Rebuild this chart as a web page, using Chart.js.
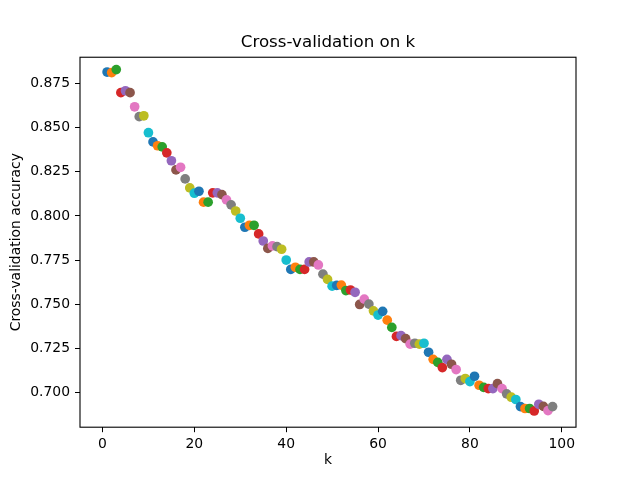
<!DOCTYPE html>
<html>
<head>
<meta charset="utf-8">
<script src="https://cdn.jsdelivr.net/npm/chart.js@4.4.0/dist/chart.umd.min.js"></script>
<style>
  body { margin: 0; background: #fff; }
  canvas { display: block; }
</style>
</head>
<body>
<canvas id="knnChart" width="640" height="480"></canvas>
<script>
// k values tried in the cross-validation
const kValues = [];
for (let k = 1; k <= 98; k++) kValues.push(k);

// mean CV accuracy, one per k
const accuracy = [
  0.8816, 0.8813, 0.8830, 0.8699, 0.8710, 0.8699, 0.8619, 0.8563, 0.8568, 0.8472,
  0.8420, 0.8398, 0.8392, 0.8358, 0.8313, 0.8261, 0.8276, 0.8210, 0.8159, 0.8129,
  0.8140, 0.8078, 0.8078, 0.8131, 0.8131, 0.8121, 0.8091, 0.8063, 0.8028, 0.7987,
  0.7936, 0.7947, 0.7947, 0.7898, 0.7858, 0.7816, 0.7830, 0.7826, 0.7811, 0.7750,
  0.7697, 0.7709, 0.7697, 0.7697, 0.7739, 0.7739, 0.7722, 0.7670, 0.7640, 0.7602,
  0.7606, 0.7608, 0.7577, 0.7580, 0.7567, 0.7498, 0.7528, 0.7500, 0.7462, 0.7438,
  0.7459, 0.7409, 0.7368, 0.7317, 0.7321, 0.7304, 0.7273, 0.7278, 0.7273, 0.7278,
  0.7227, 0.7187, 0.7170, 0.7140, 0.7187, 0.7159, 0.7129, 0.7068, 0.7078, 0.7061,
  0.7091, 0.7040, 0.7028, 0.7021, 0.7021, 0.7049, 0.7021, 0.6991, 0.6972, 0.6959,
  0.6919, 0.6908, 0.6908, 0.6894, 0.6932, 0.6920, 0.6896, 0.6919
];

const xTicks = [0, 20, 40, 60, 80, 100];
const yTicks = [0.700, 0.725, 0.750, 0.775, 0.800, 0.825, 0.850, 0.875];

// matplotlib tab10 colour cycle, one new colour per scatter call
const tab10 = ['#1f77b4', '#ff7f0e', '#2ca02c', '#d62728', '#9467bd',
               '#8c564b', '#e377c2', '#7f7f7f', '#bcbd22', '#17becf'];

const FONT = 'DejaVu Sans';

function makeTicks(list) {
  return function (scale) {
    scale.ticks = list.map(v => ({ value: v }));
  };
}

// full box around the plot like matplotlib spines
const framePlugin = {
  id: 'frame',
  afterDatasetsDraw(chart) {
    const a = chart.chartArea;
    const ctx = chart.ctx;
    ctx.save();
    ctx.strokeStyle = '#000';
    ctx.lineWidth = 1.1;
    ctx.strokeRect(a.left, a.top, a.right - a.left, a.bottom - a.top);
    ctx.restore();
  }
};

function generateChart(labels, values) {
  const ctx = document.getElementById('knnChart').getContext('2d');
  const points = labels.map((k, i) => ({ x: k, y: values[i] }));
  const colors = labels.map((k, i) => tab10[i % tab10.length]);

  new Chart(ctx, {
    type: 'scatter',
    data: {
      datasets: [{
        data: points,
        backgroundColor: colors,
        borderWidth: 0,
        pointRadius: 4.85,
        pointHoverRadius: 4.85
      }]
    },
    options: {
      responsive: false,
      animation: false,
      devicePixelRatio: 1,
      layout: { padding: { left: 0, right: 64, top: 33, bottom: 0 } },
      plugins: {
        legend: { display: false },
        tooltip: { enabled: false },
        title: {
          display: true,
          fullSize: false, // centre over the plot area, not the canvas
          text: 'Cross-validation on k',
          color: '#000',
          font: { family: FONT, size: 16.7, weight: 'normal' },
          padding: { top: 0, bottom: 4.2 }
        }
      },
      scales: {
        x: {
          type: 'linear',
          min: -4.9,
          max: 103.1,
          afterBuildTicks: makeTicks(xTicks),
          afterFit(scale) { scale.height = 52.8; },
          border: { display: false },
          grid: { display: true, drawOnChartArea: false, drawTicks: true, tickLength: 5, color: '#000' },
          ticks: { color: '#000', padding: 4, maxRotation: 0, font: { family: FONT, size: 13.9 } },
          title: { display: true, text: 'k', color: '#000', padding: { top: 0, bottom: 11 },
                   font: { family: FONT, size: 13.9 } }
        },
        y: {
          type: 'linear',
          min: 0.6802,
          max: 0.8900,
          afterBuildTicks: makeTicks(yTicks),
          afterFit(scale) { scale.width = 80; },
          border: { display: false },
          grid: { display: true, drawOnChartArea: false, drawTicks: true, tickLength: 5, color: '#000' },
          ticks: { color: '#000', padding: 5, font: { family: FONT, size: 13.9 },
                   callback: v => v.toFixed(3) },
          title: { display: true, text: 'Cross-validation accuracy', color: '#000',
                   padding: { top: 8.5, bottom: 0 }, font: { family: FONT, size: 13.9 } }
        }
      }
    },
    plugins: [framePlugin]
  });
}

generateChart(kValues, accuracy);
</script>
</body>
</html>
